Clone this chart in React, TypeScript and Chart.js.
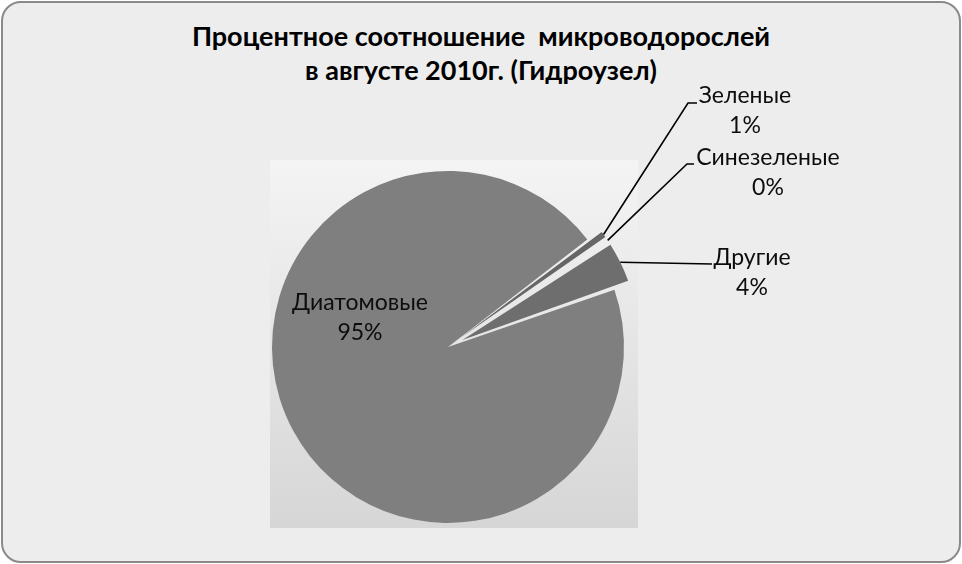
import { useEffect, useRef } from 'react'
import { Chart, ArcElement, PieController, Tooltip } from 'chart.js'

Chart.register(ArcElement, PieController, Tooltip)

// data (percent of microalgae, August 2010)
const categories = ['Диатомовые', 'Зеленые', 'Синезеленые', 'Другие']
const shares = [95, 1, 0.2, 4]
const titleLines = ['Процентное соотношение  микроводорослей', 'в августе 2010г. (Гидроузел)']

const sliceColors = ['#7f7f7f', '#666666', '#b8b8b8', '#6e6e6e']
const sliceOffsets = [0, 64, 64, 64] // chart.js moves an arc by offset / 4
const FONT = 'Lato, "Open Sans", sans-serif'

// where each data label sits (and where its leader line bends)
const labelPlacement: { x: number; y: number; elbow?: [number, number]; end?: [number, number] }[] = [
  { x: 360, y: 303 },
  { x: 745, y: 96, elbow: [688, 103], end: [697, 103] },
  { x: 768, y: 158, elbow: [687, 164], end: [694, 164] },
  { x: 752, y: 258, elbow: [712, 264], end: [712, 264] },
]

const total = shares.reduce((a, b) => a + b, 0)

const piePlugin = {
  id: 'excelPie',
  beforeDatasetsDraw(chart: Chart) {
    const { ctx } = chart
    const meta = chart.getDatasetMeta(0)
    const first: any = meta.data[0]
    const cx = first.x
    const cy = first.y

    // plot area panel with vertical gradient
    const left = cx - 178, top = cy - 187, right = cx + 190, bottom = cy + 181
    const g = ctx.createLinearGradient(0, top, 0, bottom)
    g.addColorStop(0, '#f4f4f4')
    g.addColorStop(1, '#d6d6d6')
    ctx.save()
    ctx.fillStyle = g
    ctx.fillRect(left, top, right - left, bottom - top)
    ctx.restore()

    // keep exploded slices at the same radius as the rest
    const base = (meta.controller as any).outerRadius
    meta.data.forEach((el: any) => {
      const off = (el.options.offset || 0) / 4
      if (!off) return
      const fix = 1 - Math.sin(Math.min(Math.PI, el.circumference))
      el.outerRadius = base - off * fix
    })
  },
  afterDatasetsDraw(chart: Chart) {
    const { ctx } = chart
    const meta = chart.getDatasetMeta(0)
    const base = (meta.controller as any).outerRadius
    ctx.save()
    ctx.font = `23px ${FONT}`
    ctx.textAlign = 'center'
    ctx.textBaseline = 'middle'
    meta.data.forEach((el: any, i) => {
      const p = labelPlacement[i]
      const pct = Math.round((shares[i] / total) * 100)
      if (p.elbow && p.end) {
        const mid = (el.startAngle + el.endAngle) / 2
        const off = (el.options.offset || 0) / 4
        const sx = el.x + Math.cos(mid) * (off + base)
        const sy = el.y + Math.sin(mid) * (off + base)
        ctx.strokeStyle = '#000'
        ctx.lineWidth = 1.6
        ctx.beginPath()
        ctx.moveTo(sx, sy)
        ctx.lineTo(p.elbow[0], p.elbow[1])
        ctx.lineTo(p.end[0], p.end[1])
        ctx.stroke()
      }
      ctx.fillStyle = '#0d0d0d'
      ctx.fillText(categories[i], p.x, p.y)
      ctx.fillText(`${pct}%`, p.x, p.y + 30)
    })
    ctx.restore()
  },
}

export default function App() {
  const canvasRef = useRef<HTMLCanvasElement>(null)
  const chartRef = useRef<Chart | null>(null)

  useEffect(() => {
    if (!canvasRef.current) return
    chartRef.current?.destroy()

    chartRef.current = new Chart(canvasRef.current, {
      type: 'pie',
      data: {
        labels: categories,
        datasets: [{
          data: shares,
          backgroundColor: sliceColors,
          borderWidth: 0,
          offset: sliceOffsets,
          radius: 176,
        }],
      },
      options: {
        responsive: true,
        maintainAspectRatio: false,
        animation: false,
        rotation: 71,
        layout: { padding: { left: 100, right: 166, top: 170, bottom: 40 } },
        plugins: {
          legend: { display: false },
          tooltip: { enabled: false },
        },
      },
      plugins: [piePlugin],
    })

    return () => {
      chartRef.current?.destroy()
      chartRef.current = null
    }
  }, [])

  return (
    <div style={{ position: 'absolute', left: 0, top: 0, width: 962, height: 564 }}>
      <div style={{
        position: 'absolute', left: 1, top: 1, width: 960, height: 562, boxSizing: 'border-box',
        border: '2px solid #8a8a8a', borderRadius: 20, background: '#ededed',
      }} />
      <div style={{
        position: 'absolute', left: 0, top: 19, width: 962, textAlign: 'center',
        fontFamily: FONT, fontWeight: 700, fontSize: 27, lineHeight: '34px', color: '#000', whiteSpace: 'pre',
      }}>
        {titleLines.map(t => <div key={t}>{t}</div>)}
      </div>
      <div style={{ position: 'absolute', left: 0, top: 0, width: 962, height: 564 }}>
        <canvas ref={canvasRef} />
      </div>
    </div>
  )
}
